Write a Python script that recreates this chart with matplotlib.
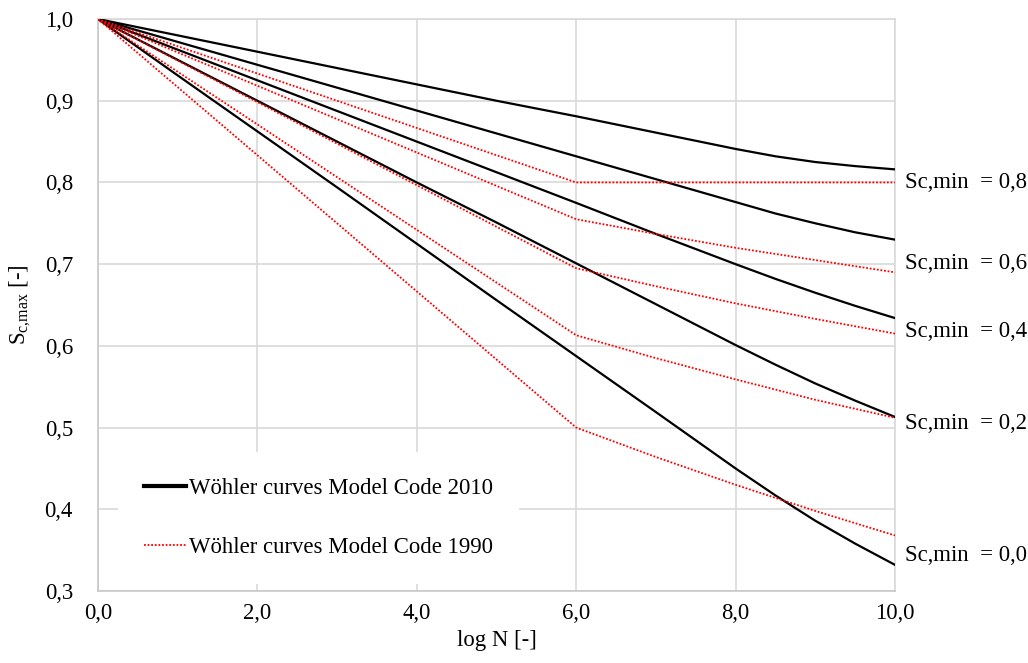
import matplotlib
matplotlib.use('Agg')
import matplotlib.pyplot as plt

plt.rcParams['font.family'] = ['Liberation Serif', 'DejaVu Serif']
plt.rcParams['mathtext.fontset'] = 'custom'
plt.rcParams['mathtext.rm'] = 'Liberation Serif'

# Model Code 2010 curves (log N vs Sc,max), one list per Sc,min
x_mc2010 = [0, 1, 2, 3, 4, 5, 6, 7, 8, 8.5, 9, 9.5, 10]
mc2010_00 = [1.0, 0.931, 0.8625, 0.794, 0.725, 0.656, 0.5875, 0.519, 0.450, 0.417, 0.386, 0.358, 0.332]
mc2010_02 = [1.0, 0.950, 0.900, 0.850, 0.800, 0.751, 0.701, 0.651, 0.601, 0.577, 0.554, 0.533, 0.513]
mc2010_04 = [1.0, 0.9625, 0.925, 0.8875, 0.850, 0.8125, 0.775, 0.737, 0.700, 0.682, 0.665, 0.649, 0.634]
mc2010_06 = [1.0, 0.972, 0.944, 0.916, 0.888, 0.860, 0.832, 0.804, 0.776, 0.762, 0.750, 0.739, 0.730]
mc2010_08 = [1.0, 0.980, 0.960, 0.940, 0.920, 0.900, 0.881, 0.861, 0.841, 0.832, 0.825, 0.820, 0.816]

# Model Code 1990 curves
x_mc1990 = [0, 6, 7, 8, 9, 10]
mc1990_00 = [1.0, 0.500, 0.464, 0.430, 0.398, 0.368]
mc1990_02 = [1.0, 0.613, 0.585, 0.559, 0.534, 0.512]
mc1990_04 = [1.0, 0.695, 0.673, 0.652, 0.633, 0.615]
mc1990_06 = [1.0, 0.755, 0.737, 0.720, 0.705, 0.690]
mc1990_08 = [1.0, 0.800, 0.800, 0.800, 0.800, 0.800]

curve_labels = ['Sc,min  = 0,8', 'Sc,min  = 0,6', 'Sc,min  = 0,4', 'Sc,min  = 0,2', 'Sc,min  = 0,0']
curve_label_y = [0.800, 0.701, 0.617, 0.505, 0.344]

x_ticks = [0, 2, 4, 6, 8, 10]
x_ticklabels = ['0,0', '2,0', '4,0', '6,0', '8,0', '10,0']
y_ticks = [0.3, 0.4, 0.5, 0.6, 0.7, 0.8, 0.9, 1.0]
y_ticklabels = ['0,3', '0,4', '0,5', '0,6', '0,7', '0,8', '0,9', '1,0']

fs = 16.4
grid_col = '#d9d9d9'

fig = plt.figure(figsize=(10.28, 6.63), dpi=100)
ax = fig.add_axes([0.0953, 0.1086, 0.7753, 0.8627])

first = True
for ys in [mc2010_00, mc2010_02, mc2010_04, mc2010_06, mc2010_08]:
    ax.plot(x_mc2010, ys, color='black', lw=1.6, zorder=3,
            label='Wöhler curves Model Code 2010' if first else None)
    first = False

first = True
for ys in [mc1990_00, mc1990_02, mc1990_04, mc1990_06, mc1990_08]:
    ax.plot(x_mc1990, ys, color='#ff0000', lw=1.3, ls=(0, (1, 1)), zorder=4,
            label='Wöhler curves Model Code 1990' if first else None)
    first = False

for lab, yv in zip(curve_labels, curve_label_y):
    ax.annotate(lab, xy=(10, yv), xytext=(7.5, 0), textcoords='offset points',
                va='center', ha='left', fontsize=fs, annotation_clip=False)

ax.set_xlim(0, 10)
ax.set_ylim(0.3, 1.0)
ax.set_xticks(x_ticks)
ax.set_xticklabels(x_ticklabels)
ax.set_yticks(y_ticks)
ax.set_yticklabels(y_ticklabels)
ax.tick_params(axis='both', length=0, labelsize=fs)
ax.tick_params(axis='y', pad=18)
ax.tick_params(axis='x', pad=9)
ax.grid(True, color=grid_col, lw=1.2)
ax.set_axisbelow(True)
for sp in ax.spines.values():
    sp.set_color(grid_col)
    sp.set_linewidth(1.2)
ax.spines['left'].set_color('#c8c8c8')
ax.spines['bottom'].set_color('#c8c8c8')

ax.set_xlabel('log N [-]', fontsize=fs, labelpad=4)
ax.set_ylabel(r'S$_{\mathregular{c{,}max}}$ [-]', fontsize=fs, labelpad=8)

leg = ax.legend(loc='lower left', bbox_to_anchor=(0.025, 0.012), borderaxespad=0,
                fontsize=fs, frameon=True, fancybox=False, framealpha=1,
                facecolor='white', edgecolor='none', handlelength=1.85,
                handletextpad=0.1, labelspacing=1.65, borderpad=1.15)
leg.get_lines()[0].set_linewidth(3)
leg.set_zorder(5)

fig.savefig('out.png', dpi=100)
